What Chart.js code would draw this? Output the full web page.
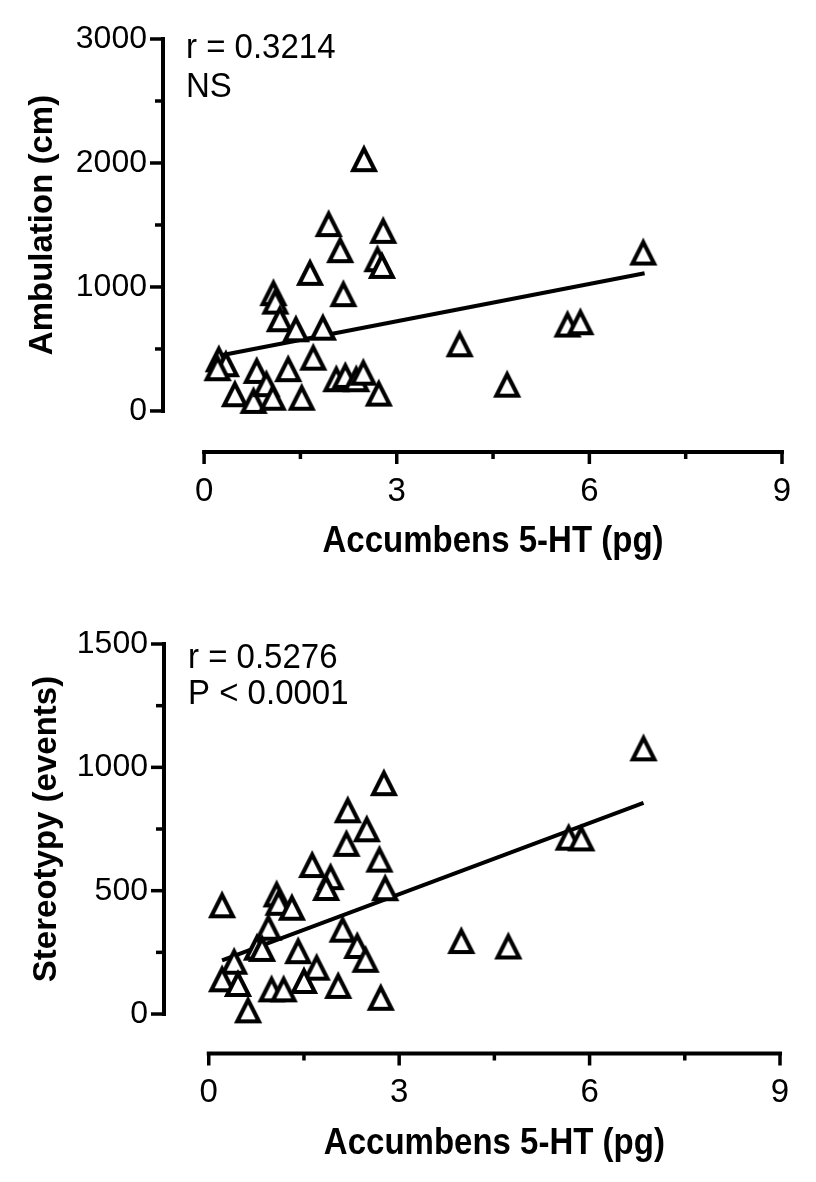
<!DOCTYPE html>
<html>
<head>
<meta charset="utf-8">
<title>Accumbens 5-HT correlations</title>
<script src="https://cdn.jsdelivr.net/npm/chart.js@4.4.1/dist/chart.umd.min.js"></script>
<style>
  html, body { margin: 0; padding: 0; background: #fff; }
  #wrap { position: relative; width: 816px; height: 1182px; }
  canvas { position: absolute; left: 0; }
  #ambChart { top: 0; }
  #stereoChart { top: 600px; }
</style>
</head>
<body>
<div id="wrap">
  <canvas id="ambChart" width="816" height="600"></canvas>
  <canvas id="stereoChart" width="816" height="582"></canvas>
</div>
<script>
// values (x = accumbens 5-HT in pg)
const ambX = [2.49, 1.94, 2.79, 2.12, 2.70, 2.77, 1.65, 2.17, 1.08, 1.11, 1.18, 1.43, 1.85, 0.23, 0.34, 0.21, 1.70,
              0.82, 1.31, 2.06, 2.20, 2.37, 2.48, 2.72, 0.48, 0.77, 0.97, 1.07, 1.52, 3.98, 4.72, 5.66, 5.86, 6.84];
const ambY = [2039, 1515, 1461, 1305, 1232, 1178, 1122, 950, 958, 890, 748, 667, 680, 425, 385, 353, 438,
              331, 345, 264, 291, 264, 317, 148, 143, 89, 224, 115, 115, 546, 220, 705, 724, 1286];
const ambFitX = [0.21, 6.86];
const ambFitY = [443, 1110];

const stereoX = [2.76, 2.19, 2.49, 2.17, 2.69, 1.63, 1.92, 1.85, 2.78, 0.21, 1.07, 1.10, 1.31, 0.94, 2.11, 0.76, 0.84, 1.41,
                 2.34, 2.47, 0.40, 1.70, 0.21, 0.46, 1.50, 2.04, 0.99, 1.18, 2.71, 0.62, 3.98, 4.72, 5.67, 5.87, 6.85];
const stereoY = [940, 830, 753, 694, 630, 608, 559, 515, 514, 445, 489, 455, 435, 354, 346, 273, 268, 259,
                 280, 224, 216, 192, 145, 126, 138, 118, 104, 104, 70, 19, 300, 278, 719, 716, 1081];
const stereoFitX = [0.21, 6.85];
const stereoFitY = [218, 856];

const xTicks = [0, 1.5, 3, 4.5, 6, 7.5, 9];
const xLabels = [0, 3, 6, 9];
const ambTicks = [0, 500, 1000, 1500, 2000, 2500, 3000];
const ambLabels = [0, 1000, 2000, 3000];
const stereoTicks = [0, 250, 500, 750, 1000, 1250, 1500];
const stereoLabels = [0, 500, 1000, 1500];

const FONT = '"Liberation Sans", Arial, sans-serif';

// open triangle like the Prism symbol (as tall as it is wide)
function makeTriangle() {
    const c = document.createElement('canvas');
    c.width = 32; c.height = 32;
    const g = c.getContext('2d');
    g.beginPath();
    g.moveTo(16, 6.6);
    g.lineTo(26.8, 28.0);
    g.lineTo(5.2, 28.0);
    g.closePath();
    g.fillStyle = '#fff';
    g.fill();
    g.lineWidth = 4.1;
    g.lineJoin = 'miter';
    g.strokeStyle = '#000';
    g.stroke();
    return c;
}
const tri = makeTriangle();

// text in the figure is a little taller than plain Arial
function tallText(ctx, text, x, y, sy) {
    ctx.save();
    ctx.translate(x, y);
    ctx.scale(1, sy);
    ctx.fillText(text, 0, 0);
    ctx.restore();
}

// offset axes, tick marks, axis titles and the r / P text
const prismAxes = {
    id: 'prismAxes',
    afterDraw(chart) {
        const o = chart.options.plugins.prismAxes;
        const { ctx, chartArea } = chart;
        const x = chart.scales.x, y = chart.scales.y;
        ctx.save();
        ctx.strokeStyle = '#000';
        ctx.fillStyle = '#000';

        // y axis
        const yl = chartArea.left;
        const yTop = y.getPixelForValue(o.yMax), yBot = y.getPixelForValue(0);
        ctx.lineWidth = 4;
        ctx.lineCap = 'square';
        ctx.beginPath(); ctx.moveTo(yl, yTop); ctx.lineTo(yl, yBot); ctx.stroke();
        ctx.lineCap = 'butt';
        ctx.lineWidth = 3.5;
        o.yTicks.forEach(v => {
            const p = y.getPixelForValue(v);
            const len = o.yLabels.includes(v) ? 13 : 8;
            ctx.beginPath(); ctx.moveTo(yl, p); ctx.lineTo(yl - len, p); ctx.stroke();
        });

        // x axis
        const xb = chartArea.bottom;
        const x0 = x.getPixelForValue(0), x9 = x.getPixelForValue(9);
        ctx.lineWidth = 4;
        ctx.lineCap = 'square';
        ctx.beginPath(); ctx.moveTo(x0, xb); ctx.lineTo(x9, xb); ctx.stroke();
        ctx.lineCap = 'butt';
        ctx.lineWidth = 3.5;
        xTicks.forEach(v => {
            const p = x.getPixelForValue(v);
            const len = xLabels.includes(v) ? 12 : 7;
            ctx.beginPath(); ctx.moveTo(p, xb); ctx.lineTo(p, xb + len); ctx.stroke();
        });

        // titles
        ctx.font = 'bold 33px ' + FONT;
        ctx.textAlign = 'center';
        ctx.textBaseline = 'alphabetic';
        tallText(ctx, o.xTitle, x.getPixelForValue(4.5), o.xTitleY, 1.1);
        ctx.save();
        ctx.translate(o.yTitleX, (yTop + yBot) / 2);
        ctx.rotate(-Math.PI / 2);
        ctx.fillText(o.yTitle, 0, 0);
        ctx.restore();

        // stats text
        ctx.font = '33px ' + FONT;
        ctx.textAlign = 'left';
        o.note.forEach((t, i) => tallText(ctx, t, o.noteX, o.noteY[i], 1.06));
        ctx.restore();
    }
};

function prismScatter(id, s) {
    return new Chart(document.getElementById(id), {
        type: 'scatter',
        data: {
            datasets: [
                {
                    data: s.xs.map((v, i) => ({ x: v, y: s.ys[i] })),
                    pointStyle: tri,
                    pointRadius: 13,
                    order: 0
                },
                {
                    data: s.fitX.map((v, i) => ({ x: v, y: s.fitY[i] })),
                    showLine: true,
                    borderColor: '#000',
                    borderWidth: 4,
                    pointRadius: 0,
                    order: 1
                }
            ]
        },
        options: {
            responsive: false,
            animation: false,
            events: [],
            layout: { padding: { top: s.padTop, right: s.padRight, left: 0, bottom: 0 } },
            plugins: {
                legend: { display: false },
                tooltip: { enabled: false },
                prismAxes: {
                    yMax: s.yMax, yTicks: s.yTicks, yLabels: s.yLabels,
                    xTitle: 'Accumbens 5-HT (pg)', xTitleY: s.xTitleY,
                    yTitle: s.yTitle, yTitleX: s.yTitleX,
                    note: s.note, noteX: s.noteX, noteY: s.noteY
                }
            },
            scales: {
                x: {
                    type: 'linear',
                    min: s.xMin, max: 9,
                    grid: { display: false, drawTicks: false },
                    border: { display: false },
                    afterBuildTicks: sc => { sc.ticks = xTicks.map(v => ({ value: v })); },
                    afterFit: sc => { sc.height = s.xAxisH; },
                    ticks: {
                        autoSkip: false, maxRotation: 0, padding: 20, color: '#000',
                        font: { family: FONT, size: 33 },
                        callback: v => xLabels.includes(v) ? String(v) : ''
                    }
                },
                y: {
                    type: 'linear',
                    min: s.yMin, max: s.yMax,
                    grid: { display: false, drawTicks: false },
                    border: { display: false },
                    afterBuildTicks: sc => { sc.ticks = s.yTicks.map(v => ({ value: v })); },
                    afterFit: sc => { sc.width = s.yAxisW; },
                    ticks: {
                        autoSkip: false, padding: 16, color: '#000',
                        font: { family: FONT, size: 32 },
                        callback: v => s.yLabels.includes(v) ? String(v) : ''
                    }
                }
            }
        },
        plugins: [prismAxes]
    });
}

prismScatter('ambChart', {
    xs: ambX, ys: ambY, fitX: ambFitX, fitY: ambFitY,
    xMin: -0.64, yMin: -331, yMax: 3000,
    yTicks: ambTicks, yLabels: ambLabels,
    padTop: 39, padRight: 34, xAxisH: 148, yAxisW: 163,
    yTitle: 'Ambulation (cm)', yTitleX: 52, xTitleY: 552,
    note: ['r = 0.3214', 'NS'], noteX: 186, noteY: [58, 97]
});

prismScatter('stereoChart', {
    xs: stereoX, ys: stereoY, fitX: stereoFitX, fitY: stereoFitY,
    xMin: -0.705, yMin: -160, yMax: 1500,
    yTicks: stereoTicks, yLabels: stereoLabels,
    padTop: 44, padRight: 36, xAxisH: 128.5, yAxisW: 164,
    yTitle: 'Stereotypy (events)', yTitleX: 56, xTitleY: 554,
    note: ['r = 0.5276', 'P < 0.0001'], noteX: 188, noteY: [68, 104]
});
</script>
</body>
</html>
